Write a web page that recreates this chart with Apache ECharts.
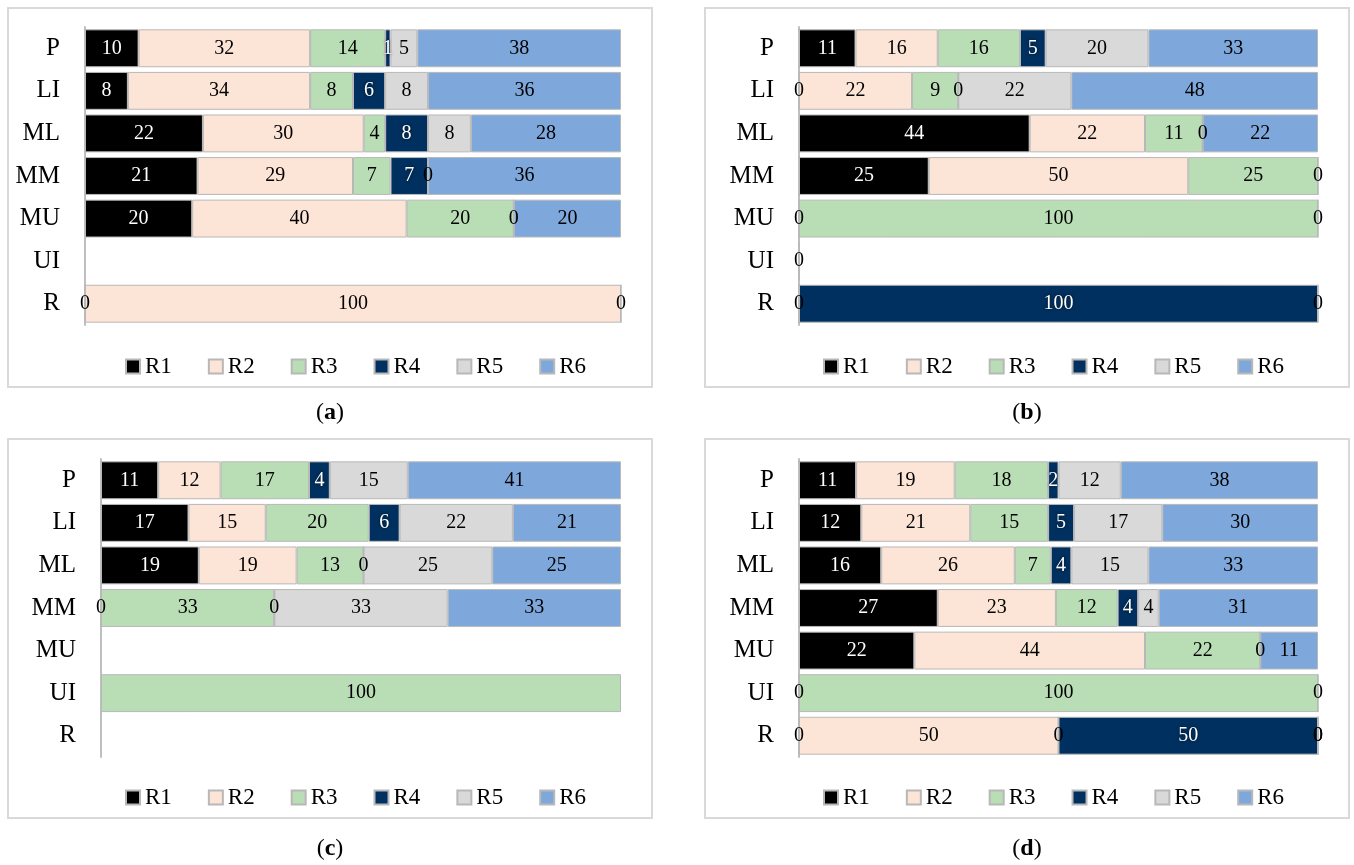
<!DOCTYPE html>
<html>
<head>
<meta charset="utf-8">
<script src="https://cdn.jsdelivr.net/npm/echarts@6/dist/echarts.min.js"></script>
<style>
  html, body { margin: 0; padding: 0; background: #fff; }
  #main { width: 1354px; height: 865px; }
</style>
</head>
<body>
<div id="main"></div>
<script>
// categories (top to bottom) and series names
var categories = ['P', 'LI', 'ML', 'MM', 'MU', 'UI', 'R'];
var seriesNames = ['R1', 'R2', 'R3', 'R4', 'R5', 'R6'];
var panelTags = ['a', 'b', 'c', 'd'];

// panel (a)
var aR1 = [10, 8, 22, 21, 20, null, 0];
var aR2 = [32, 34, 30, 29, 40, null, 100];
var aR3 = [14, 8, 4, 7, 20, null, null];
var aR4 = [1, 6, 8, 7, null, null, null];
var aR5 = [5, 8, 8, 0, 0, null, null];
var aR6 = [38, 36, 28, 36, 20, null, 0];

// panel (b)
var bR1 = [11, 0, 44, 25, 0, 0, 0];
var bR2 = [16, 22, 22, 50, null, null, null];
var bR3 = [16, 9, 11, 25, 100, null, null];
var bR4 = [5, 0, null, null, null, null, 100];
var bR5 = [20, 22, 0, null, null, null, null];
var bR6 = [33, 48, 22, 0, 0, null, 0];

// panel (c)
var cR1 = [11, 17, 19, null, null, null, null];
var cR2 = [12, 15, 19, 0, null, null, null];
var cR3 = [17, 20, 13, 33, null, 100, null];
var cR4 = [4, 6, 0, 0, null, null, null];
var cR5 = [15, 22, 25, 33, null, null, null];
var cR6 = [41, 21, 25, 33, null, null, null];

// panel (d)
var dR1 = [11, 12, 16, 27, 22, null, 0];
var dR2 = [19, 21, 26, 23, 44, 0, 50];
var dR3 = [18, 15, 7, 12, 22, 100, 0];
var dR4 = [2, 5, 4, 4, null, null, 50];
var dR5 = [12, 17, 15, 4, 0, null, 0];
var dR6 = [38, 30, 33, 31, 11, 0, 0];

var panels = [
  [aR1, aR2, aR3, aR4, aR5, aR6],
  [bR1, bR2, bR3, bR4, bR5, bR6],
  [cR1, cR2, cR3, cR4, cR5, cR6],
  [dR1, dR2, dR3, dR4, dR5, dR6]
];

var colors = ['#000000', '#FCE4D6', '#B9DDB5', '#00305F', '#D9D9D9', '#7EA8DB'];
var labelColors = ['#ffffff', '#000000', '#000000', '#ffffff', '#000000', '#000000'];
var font = '"Liberation Serif", "DejaVu Serif", serif';

// layout of the four panels
var boxes = [
  { x: 8, y: 8, w: 644, h: 379 },
  { x: 705, y: 8, w: 644, h: 379 },
  { x: 8, y: 439, w: 644, h: 379 },
  { x: 705, y: 439, w: 644, h: 379 }
];
var grids = [
  { left: 85, right: 733, top: 27, height: 298 },
  { left: 799, right: 36, top: 27, height: 298 },
  { left: 101, right: 733, top: 459, height: 298 },
  { left: 799, right: 36, top: 459, height: 298 }
];
var legendPos = [
  { left: 125, top: 355 },
  { left: 823, top: 355 },
  { left: 125, top: 786 },
  { left: 823, top: 786 }
];
var captionPos = [
  { x: 330, y: 413 },
  { x: 1027, y: 413 },
  { x: 330, y: 849 },
  { x: 1027, y: 849 }
];

var option = {
  backgroundColor: '#ffffff',
  animation: false,
  grid: [],
  xAxis: [],
  yAxis: [],
  legend: [],
  series: [],
  graphic: []
};

panels.forEach(function (rows, p) {
  var g = grids[p];
  option.grid.push({
    left: g.left, right: g.right, top: g.top, height: g.height,
    containLabel: false, outerBoundsMode: 'none'
  });
  option.xAxis.push({
    type: 'value', gridIndex: p, min: 0, max: 100,
    show: false
  });
  option.yAxis.push({
    type: 'category', gridIndex: p, data: categories, inverse: true,
    axisLine: { show: true, lineStyle: { color: '#BFBFBF', width: 2 } },
    axisTick: { show: false },
    splitLine: { show: false },
    axisLabel: { color: '#000', fontSize: 25, fontFamily: font, margin: 25 }
  });
  option.legend.push({
    data: seriesNames,
    left: legendPos[p].left, top: legendPos[p].top,
    padding: 0, itemGap: 36, itemWidth: 14, itemHeight: 14,
    icon: 'rect',
    textStyle: { color: '#000', fontSize: 23, fontFamily: font },
    selectedMode: false
  });

  // row totals, so every row fills 100% like Excel's 100% stacked bar
  var totals = categories.map(function (c, i) {
    var t = 0;
    rows.forEach(function (r) { if (r[i] != null) t += r[i]; });
    return t;
  });

  rows.forEach(function (vals, s) {
    var data = vals.map(function (v, i) {
      if (v == null) return '-';
      var item = { value: totals[i] ? v / totals[i] * 100 : 0, raw: v };
      if (v === 0) item.label = { color: '#000', textShadowBlur: 0 };
      return item;
    });
    option.series.push({
      type: 'bar',
      name: seriesNames[s],
      stack: 'panel' + p,
      xAxisIndex: p,
      yAxisIndex: p,
      barCategoryGap: '11%',
      data: data,
      itemStyle: { color: colors[s], borderColor: '#B8B8B8', borderWidth: 1 },
      label: {
        show: true,
        position: 'inside',
        color: labelColors[s],
        fontSize: 20,
        fontFamily: font,
        textShadowColor: labelColors[s] === '#ffffff' ? 'rgba(0,0,0,0.7)' : 'transparent',
        textShadowBlur: labelColors[s] === '#ffffff' ? 3 : 0,
        formatter: function (prm) { return String(prm.data.raw); }
      },
      emphasis: { disabled: true }
    });
  });

  var b = boxes[p];
  option.graphic.push({
    type: 'rect', silent: true,
    shape: { x: b.x, y: b.y, width: b.w, height: b.h },
    style: { fill: 'none', stroke: '#D9D9D9', lineWidth: 2 }
  });
  option.graphic.push({
    type: 'text', silent: true,
    x: captionPos[p].x, y: captionPos[p].y,
    style: {
      text: '{n|(}{b|' + panelTags[p] + '}{n|)}',
      align: 'center', verticalAlign: 'middle',
      rich: {
        n: { fontSize: 24, fontFamily: font, fill: '#000', color: '#000' },
        b: { fontSize: 24, fontFamily: font, fontWeight: 'bold', fill: '#000', color: '#000' }
      }
    }
  });
});

var myChart = echarts.init(document.getElementById('main'));
myChart.setOption(option);
</script>
</body>
</html>
